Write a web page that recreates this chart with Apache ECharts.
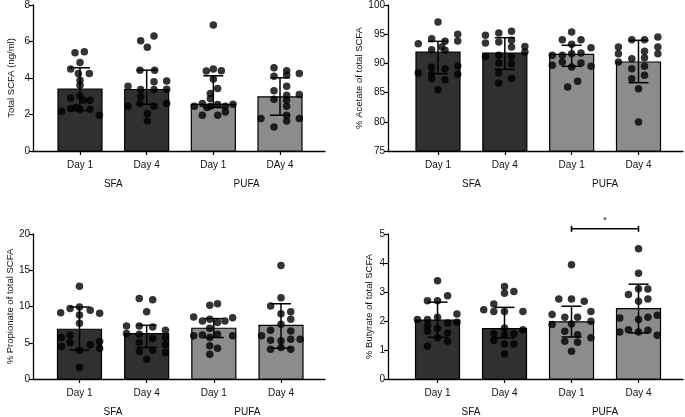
<!DOCTYPE html>
<html><head><meta charset="utf-8">
<script src="https://cdn.jsdelivr.net/npm/echarts@6/dist/echarts.min.js"></script>
<style>html,body{margin:0;padding:0;background:#fff}#c{width:685px;height:417px}</style>
</head><body><div id="c"></div>
<script>
// ---------- DATA ----------
const dayLabels = ['Day 1', 'Day 4', 'Day 1', 'Day 4'];
const dayLabelsTotal = ['Day 1', 'Day 4', 'Day 1', 'DAy 4'];
const groupLabels = ['SFA', 'PUFA'];
const yNames = ['Total SCFA (ng/ml)', '% Acetate of total SCFA', '% Propionate of total SCFA', '% Butyrate of total SCFA'];

// Panel 1: Total SCFA
const totalMean = [3.39, 3.37, 2.56, 2.97];
const totalLow  = [2.22, 2.56, 2.38, 1.96];
const totalHigh = [4.56, 4.43, 4.12, 4.01];
const totalPoints = [
  [5.38,5.44,4.85,4.49,4.25,4.25,3.88,3.6,2.91,3.02,2.78,2.78,2.18,2.33,2.29,2.29,1.96,2.38],
  [6.04,6.30,5.68,4.43,4.43,3.79,3.83,3.55,3.37,3.37,3.39,2.97,2.45,2.6,2.45,2.6,2.05,1.65],
  [6.9,4.38,4.49,4.40,3.94,3.42,3.15,2.88,2.45,2.6,2.45,2.55,2.45,2.56,1.96,1.96,2.14,2.38],
  [4.56,4.40,4.16,4.25,3.55,3.30,3.06,3.1,2.84,2.78,1.78,1.96,1.65,1.78,1.32,4.1,2.45]
];
const totalJitter = [
  [-0.075,0.065,0,-0.14,0.14,-0.025,0,0,-0.14,0,0.05,0.15,-0.275,-0.14,0,0.15,0.29,-0.06],
  [-0.09,0.11,0.01,-0.1,0.12,0.11,0.3,-0.28,-0.09,0.11,0.3,-0.09,-0.28,-0.1,0.11,0.3,0.01,0.01],
  [0,-0.105,0,0.12,0,0.065,-0.045,-0.045,-0.285,-0.165,-0.045,0.065,0.18,0.295,-0.165,0.065,0.18,-0.095],
  [-0.09,0.1,0.1,0.29,0.1,-0.09,0.1,0.29,-0.09,0.1,-0.285,0.1,0.1,0.29,-0.09,-0.09,0.1]
];

// Panel 2: % Acetate
const acetateMean = [91.95, 91.78, 91.55, 90.24];
const acetateLow  = [88.24, 88.98, 89.5, 86.7];
const acetateHigh = [93.78, 94.4, 93.1, 93.95];
const acetatePoints = [
  [97.09,93.38,94.24,93.78,92.35,92.24,94.98,93.84,88.36,88.24,87.39,89.1,87.2,85.5,89.55,88.13,92.8,89.38],
  [94.8,93.5,95.2,93.67,95.5,93.95,92.8,92.9,91.95,91.2,91.38,91.2,90.07,89.95,88.35,87.4,86.64],
  [95.38,94.06,94.06,93.26,91.38,91.38,91.67,91.78,92.7,89.67,90.24,89.38,90.07,89.5,86.93,85.96],
  [94.06,94.06,94.52,92.8,91.67,92.8,91.67,90.24,92.1,90.98,89.1,89.5,87.96,87.39,85.67,79.97,90.8]
];
const acetateJitter = [
  [0,-0.295,-0.095,0.105,-0.095,0.105,0.295,0.295,-0.295,-0.095,-0.095,0.105,0.105,0,0.295,0.295,0.055,-0.095],
  [-0.29,-0.29,-0.09,-0.09,0.1,0.1,0.1,0.3,0.3,-0.29,-0.09,0.1,-0.09,0.1,-0.09,0.1,-0.09],
  [0,-0.14,0.14,0,-0.29,-0.14,0,0.14,0.29,-0.29,-0.14,0,0.14,0.29,0.09,-0.06],
  [-0.1,0.09,0.29,0.29,0.29,-0.3,-0.3,-0.3,0.09,0.09,-0.1,0.09,0.09,-0.1,0,0,-0.1]
];

// Panel 3: % Propionate
const propMean = [6.86, 6.27, 7.0, 7.41];
const propLow  = [3.98, 4.35, 5.72, 4.25];
const propHigh = [9.93, 7.41, 8.33, 10.38];
const propPoints = [
  [12.8,9.15,9.74,9.93,9.47,9.06,8.83,7.69,5.72,6.04,5.03,4.48,4.71,5.17,4.25,3.98,1.6],
  [11.12,10.93,9.29,7.32,7.32,7.18,6.27,6.18,6.72,5.58,5.72,5.03,4.71,3.8,3.98,3.66,2.74],
  [10.16,10.38,8.55,8.0,8.23,7.78,8.0,8.46,7.0,5.95,6.08,5.72,6.17,5.95,4.57,4.25,3.43],
  [15.64,11.2,10.06,9.29,9.01,8.23,7.55,6.72,6.63,5.95,5.35,5.26,5.49,5.49,4.12,4.35,4.12]
];
const propJitter = [
  [0,-0.28,-0.14,0,0.16,0.3,0,0,-0.27,-0.14,-0.14,-0.27,0.16,0.3,0.3,0,0],
  [-0.11,0.09,0,-0.3,-0.11,0.09,-0.3,-0.11,0.28,0.09,0.28,-0.11,0.28,-0.11,0.09,0.28,0],
  [-0.06,0.055,-0.3,-0.17,-0.06,0.055,0.165,0.28,-0.06,-0.3,-0.17,-0.06,0.055,0.28,-0.06,0.055,-0.06],
  [0,0,-0.155,0.145,0,0.145,0,-0.155,0.145,-0.29,-0.155,0,0.145,0.285,-0.155,0,0.145]
];

// Panel 4: % Butyrate
const butMean = [2.03, 1.74, 1.97, 2.43];
const butLow  = [1.44, 1.42, 1.45, 1.59];
const butHigh = [2.65, 2.47, 2.51, 3.27];
const butPoints = [
  [3.39,2.7,2.7,2.87,2.24,2.05,2.05,2.13,1.93,1.96,1.84,1.74,1.65,1.59,1.42,1.3,1.13],
  [3.19,2.96,3.02,2.39,2.59,2.33,2.33,2.33,1.76,1.7,1.56,1.53,1.56,1.33,1.21,1.21,0.87],
  [3.94,2.76,2.76,2.68,2.33,2.22,2.13,2.13,1.88,1.9,1.99,1.65,1.53,1.42,1.3,1.27,0.96],
  [4.49,3.65,2.91,3.11,3.1,2.76,2.68,2.1,2.05,2.13,2.2,1.7,1.62,1.62,1.68,1.51]
];
const butJitter = [
  [0,-0.15,0,0.15,0.29,-0.3,-0.15,0,0.15,0.29,-0.15,0,-0.15,0.15,0,0.15,-0.15],
  [0,0,0.14,-0.31,-0.16,-0.16,0,0.275,0,0.275,-0.16,0,0.14,-0.16,0,0.14,0],
  [0,-0.19,0,0.19,0.29,-0.29,-0.1,0.09,-0.29,0,0.29,-0.1,0.09,0.29,-0.1,0.09,0],
  [0,0,-0.15,0,0.14,0.14,0,-0.28,0,0.14,0.28,-0.15,-0.28,0,0.14,0.28]
];
// significance bracket (PUFA Day 1 vs Day 4, butyrate)
const sigPair = [3, 4];
const sigLevel = 5.18;
const sigText = '*';

// ---------- LAYOUT / STYLE ----------
const SFA_COLOR = '#303030', PUFA_COLOR = '#8c8c8c';
const panels = [
  {grid:{left:33,top:5,width:292,height:146}, xr:[0.295,4.675], y:[0,8,2], mean:totalMean, low:totalLow, high:totalHigh, pts:totalPoints, jit:totalJitter, days:dayLabelsTotal, nameGap:17},
  {grid:{left:388,top:5,width:295,height:146}, xr:[0.252,4.666], y:[75,100,5], mean:acetateMean, low:acetateLow, high:acetateHigh, pts:acetatePoints, jit:acetateJitter, days:dayLabels, nameGap:24},
  {grid:{left:33,top:234,width:292,height:146}, xr:[0.308,4.655], y:[0,20,5], mean:propMean, low:propLow, high:propHigh, pts:propPoints, jit:propJitter, days:dayLabels, nameGap:18},
  {grid:{left:388,top:234,width:295,height:146}, xr:[0.261,4.664], y:[0,5,1], mean:butMean, low:butLow, high:butHigh, pts:butPoints, jit:butJitter, days:dayLabels, nameGap:14}
];
const FONT = 'Liberation Sans';
const NARROW = 'Liberation Sans Narrow, Liberation Sans';
const TXT = '#111';

const grid = [], xAxis = [], yAxis = [], series = [];
panels.forEach((p, i) => {
  grid.push(p.grid);
  const days = p.days;
  xAxis.push({
    type:'value', gridIndex:i, min:p.xr[0], max:p.xr[1],
    axisLine:{show:true, onZero:false, lineStyle:{color:'#000', width:1.3}},
    axisTick:{show:true, customValues:[1,2,3,4], length:4, lineStyle:{color:'#000', width:1.2}},
    axisLabel:{show:true, customValues:[1,2,3,4], margin:9, color:TXT, fontFamily:NARROW, fontSize:10,
      formatter:v => days[Math.round(v)-1] || ''},
    splitLine:{show:false}
  });
  xAxis.push({
    type:'value', gridIndex:i, min:p.xr[0], max:p.xr[1], position:'bottom',
    axisLine:{show:false}, axisTick:{show:false},
    axisLabel:{show:true, customValues:[1.5,3.5], margin:28, color:TXT, fontFamily:NARROW, fontSize:10,
      formatter:v => (v < 2.5 ? groupLabels[0] : groupLabels[1])},
    splitLine:{show:false}
  });
  yAxis.push({
    type:'value', gridIndex:i, min:p.y[0], max:p.y[1], interval:p.y[2],
    name:yNames[i], nameLocation:'middle', nameGap:p.nameGap, nameRotate:90,
    nameTextStyle:{color:TXT, fontFamily:NARROW, fontSize:9.5},
    axisLine:{show:true, lineStyle:{color:'#000', width:1.3}},
    axisTick:{show:true, length:4, lineStyle:{color:'#000', width:1.2}},
    axisLabel:{color:TXT, fontFamily:FONT, fontSize:10, margin:3},
    splitLine:{show:false}
  });
  const yMin = p.y[0];
  // bars
  series.push({
    type:'custom', xAxisIndex:i*2, yAxisIndex:i, z:2,
    data:p.mean.map((m,k)=>[k+1, m]),
    renderItem:(params, api) => {
      const x = api.value(0), v = api.value(1);
      const b = api.coord([x, yMin]), t = api.coord([x, v]);
      const half = 22;
      return {type:'rect', shape:{x:b[0]-half, y:t[1], width:half*2, height:b[1]-t[1]},
        style:{fill: x <= 2 ? SFA_COLOR : PUFA_COLOR, stroke:'#000', lineWidth:1.2}};
    }
  });
  // error bars
  series.push({
    type:'custom', xAxisIndex:i*2, yAxisIndex:i, z:3,
    data:p.mean.map((m,k)=>[k+1, p.low[k], p.high[k]]),
    renderItem:(params, api) => {
      const x = api.value(0);
      const lo = api.coord([x, api.value(1)]), hi = api.coord([x, api.value(2)]);
      const w = 10, st = {stroke:'#000', lineWidth:1.5};
      return {type:'group', children:[
        {type:'line', shape:{x1:lo[0], y1:lo[1], x2:hi[0], y2:hi[1]}, style:st},
        {type:'line', shape:{x1:hi[0]-w, y1:hi[1], x2:hi[0]+w, y2:hi[1]}, style:st},
        {type:'line', shape:{x1:lo[0]-w, y1:lo[1], x2:lo[0]+w, y2:lo[1]}, style:st}
      ]};
    }
  });
  // points
  const pts = [];
  p.pts.forEach((arr, k) => arr.forEach((v, j) => pts.push([k+1+p.jit[k][j], v])));
  series.push({
    type:'scatter', xAxisIndex:i*2, yAxisIndex:i, z:4,
    symbol:'circle', symbolSize:7.5, itemStyle:{color:'#000'},
    data:pts
  });
});
// significance bracket
series.push({
  type:'custom', xAxisIndex:6, yAxisIndex:3, z:5, clip:false,
  data:[[sigPair[0], sigPair[1], sigLevel]],
  renderItem:(params, api) => {
    const a = api.coord([api.value(0), api.value(2)]), b = api.coord([api.value(1), api.value(2)]);
    const st = {stroke:'#000', lineWidth:1.6};
    return {type:'group', children:[
      {type:'line', shape:{x1:a[0], y1:a[1], x2:b[0], y2:b[1]}, style:st},
      {type:'line', shape:{x1:a[0], y1:a[1]-3, x2:a[0], y2:a[1]+3}, style:st},
      {type:'line', shape:{x1:b[0], y1:b[1]-3, x2:b[0], y2:b[1]+3}, style:st},
      {type:'text', style:{text:sigText, x:(a[0]+b[0])/2, y:a[1]-4, textAlign:'center', textVerticalAlign:'bottom',
        fill:TXT, font:'9px ' + FONT}}
    ]};
  }
});

const chart = echarts.init(document.getElementById('c'), null, {renderer:'canvas'});
chart.setOption({animation:false, backgroundColor:'#fff', grid, xAxis, yAxis, series});
</script></body></html>
